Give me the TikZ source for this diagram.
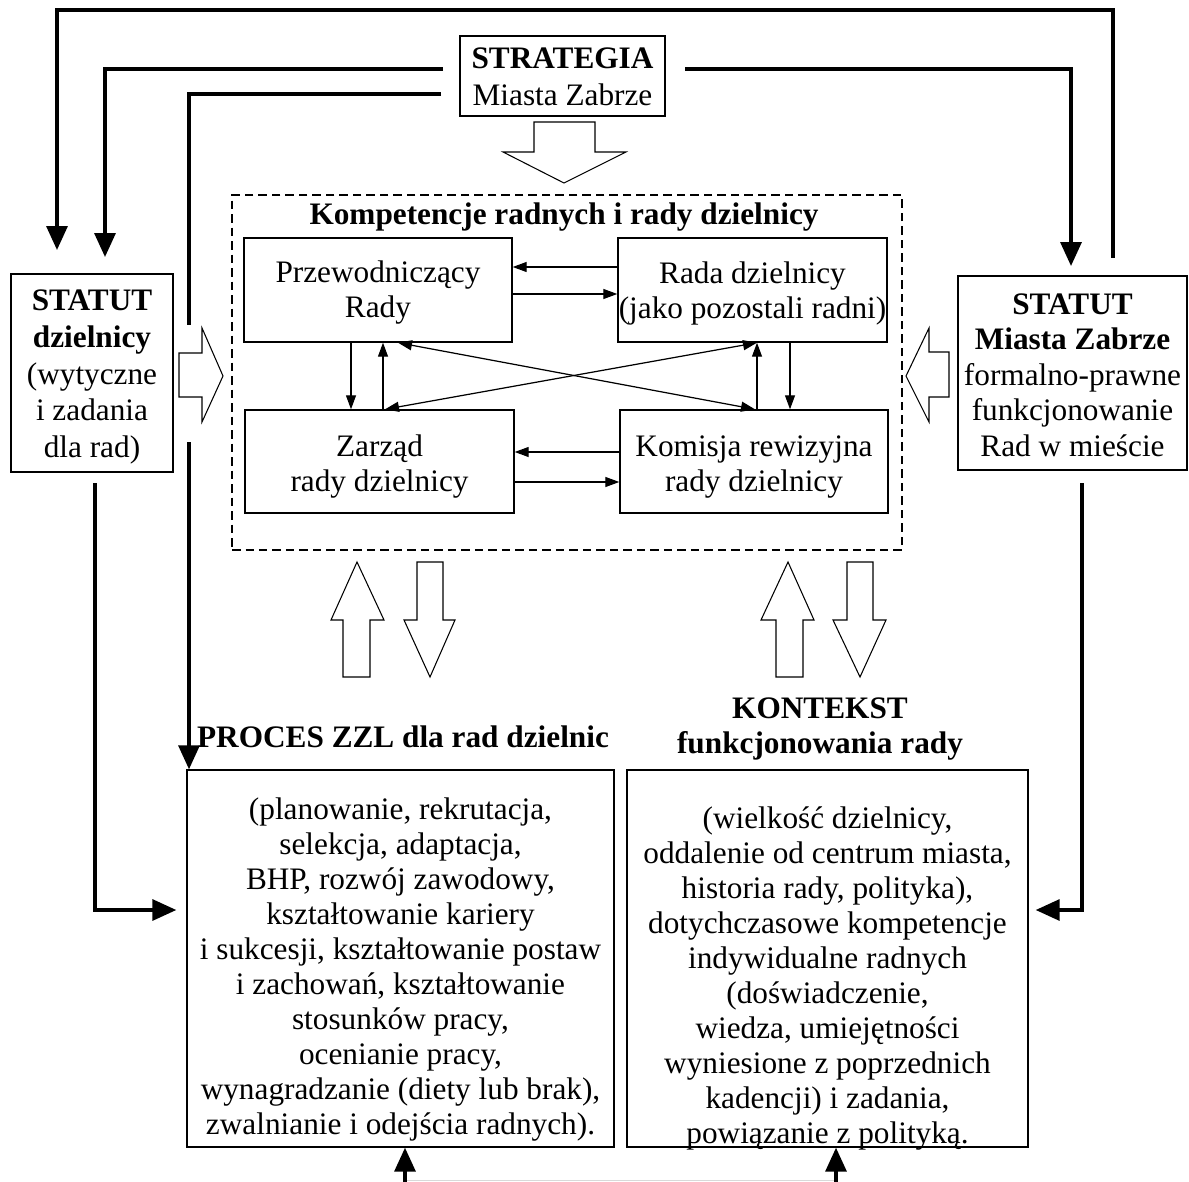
\documentclass[tikz,border=0pt]{standalone}
\usepackage{fontspec}
\setmainfont{Liberation Serif}
\usetikzlibrary{arrows.meta,fit,calc}
\begin{document}
\begin{tikzpicture}[x=0.02cm,y=-0.02cm,
  box/.style={draw,line width=0.8pt,inner sep=0pt},
  dbox/.style={draw,line width=0.6pt,inner sep=0pt,dash pattern=on 0.17cm off 0.1cm},
  txt/.style={align=center,inner sep=0pt,font=\fontsize{17.8pt}{19.92pt}\selectfont},
  hd/.style={align=center,inner sep=0pt,font=\fontsize{17.8pt}{19.92pt}\selectfont\bfseries},
  conn/.style={line width=1.9pt,-{Triangle[length=0.48cm,width=0.42cm]}},
  plainconn/.style={line width=1.9pt},
  link/.style={line width=0.7pt,-{Triangle[length=0.28cm,width=0.2cm]}},
  dlink/.style={line width=0.7pt,{Triangle[length=0.28cm,width=0.2cm]}-{Triangle[length=0.28cm,width=0.2cm]}},
  blockarrow/.style={draw,line width=0.6pt,fill=white,line join=miter},
]
\useasboundingbox (0,0) rectangle (1189,1182);

% boxes
\node[box,fit={(460,36)(665,116)}] (strat) {};
\node[txt,font=\fontsize{17.8pt}{21pt}\selectfont] (stratT) at (562.5,77) {\textbf{STRATEGIA}\\Miasta Zabrze};

\node[dbox,fit={(232,195)(902,550)}] (komp) {};
\node[hd,anchor=base] (kompT) at (564,225) {Kompetencje radnych i rady dzielnicy};

\node[box,fit={(244,238)(512,342)}] (przew) {};
\node[txt] (przewT) at (378,293) {Przewodniczący\\Rady};
\node[box,fit={(618,238)(887,342)}] (rada) {};
\node[txt] (radaT) at (752.5,293) {Rada dzielnicy\\(jako pozostali radni)};
\node[box,fit={(245,410)(514,513)}] (zarz) {};
\node[txt] (zarzT) at (379.5,467) {Zarząd\\rady dzielnicy};
\node[box,fit={(620,410)(888,513)}] (komis) {};
\node[txt] (komisT) at (754,467) {Komisja rewizyjna\\rady dzielnicy};

\node[box,fit={(11,274)(173,472)}] (statL) {};
\node[txt,font=\fontsize{17.8pt}{20.8pt}\selectfont] (statLT) at (92,377) {\textbf{STATUT}\\\textbf{dzielnicy}\\(wytyczne\\i zadania\\dla rad)};
\node[box,fit={(958,276)(1187,470)}] (statR) {};
\node[txt,font=\fontsize{17.8pt}{20.2pt}\selectfont] (statRT) at (1072.5,375) {\textbf{STATUT}\\\textbf{Miasta Zabrze}\\formalno-prawne\\funkcjonowanie\\Rad w mieście};

\node[hd,anchor=base] (procH) at (403,747) {PROCES ZZL dla rad dzielnic};
\node[hd] (kontH) at (820,729) {KONTEKST\\funkcjonowania rady};

\node[box,fit={(187,770)(614,1147)}] (proc) {};
\node[txt] (procT) at (400.5,970) {(planowanie, rekrutacja,\\selekcja, adaptacja,\\BHP, rozwój zawodowy,\\kształtowanie kariery\\i sukcesji, kształtowanie postaw\\i zachowań, kształtowanie\\stosunków pracy,\\ocenianie pracy,\\wynagradzanie (diety lub brak),\\zwalnianie i odejścia radnych).};
\node[box,fit={(627,770)(1028,1147)}] (kont) {};
\node[txt] (kontT) at (827.5,978) {(wielkość dzielnicy,\\oddalenie od centrum miasta,\\historia rady, polityka),\\dotychczasowe kompetencje\\indywidualne radnych\\(doświadczenie,\\wiedza, umiejętności\\wyniesione z poprzednich\\kadencji) i zadania,\\powiązanie z polityką.};

% block arrows
\draw[blockarrow] (534,122) -- (595,122) -- (595,152) -- (626,152) -- (564,183) -- (503,152) -- (534,152) -- cycle;
\draw[blockarrow] (179,353) -- (202,353) -- (202,328) -- (223,376) -- (202,422) -- (202,397) -- (179,397) -- cycle;
\draw[blockarrow] (949,352) -- (929,352) -- (929,328) -- (906,376) -- (929,422) -- (929,397) -- (949,397) -- cycle;
\draw[blockarrow] (357,562) -- (384,620) -- (370,620) -- (370,677) -- (343,677) -- (343,620) -- (331,620) -- cycle;
\draw[blockarrow] (417,562) -- (443,562) -- (443,620) -- (455,620) -- (430,677) -- (404,620) -- (417,620) -- cycle;
\draw[blockarrow] (788,562) -- (814,620) -- (803,620) -- (803,677) -- (776,677) -- (776,620) -- (761,620) -- cycle;
\draw[blockarrow] (847,562) -- (873,562) -- (873,620) -- (886,620) -- (860,677) -- (833,620) -- (847,620) -- cycle;

% thick connectors
\coordinate (aS) at (1113,258);
\coordinate (aT) at (57,250);
\draw[conn] (aS) -- (1113,10) -| (aT);
\coordinate (bS) at (443,69);
\coordinate (bT) at (105,257);
\draw[conn] (bS) -| (bT);
\coordinate (cS) at (441,94);
\coordinate (cM) at (189,325);
\coordinate (cN) at (189,442);
\draw[plainconn] (cS) -| (cM);
\draw[conn] (cN) -- (cN |- proc.north);
\coordinate (dS) at (685,69);
\coordinate (dT) at (1071,266);
\draw[conn] (dS) -| (dT);
\coordinate (eS) at (95,483);
\draw[conn,shorten >=0.2cm] (eS) |- (proc.west |- 0,910);
\coordinate (fS) at (1082,483);
\draw[conn,shorten >=0.14cm] (fS) |- (kont.east |- 0,910);
\coordinate (gL) at (405,1182);
\coordinate (gR) at (836,1182);
\draw[gray!30,line width=0.6pt] (405,1180.5) -- (836,1180.5);
\draw[conn] (gL) -- (gL |- proc.south);
\draw[conn] (gR) -- (gR |- kont.south);

% inner links
\draw[link] (rada.west |- 0,267) -- (przew.east |- 0,267);
\draw[link] (przew.east |- 0,294) -- (rada.west |- 0,294);
\draw[link] (komis.west |- 0,452) -- (zarz.east |- 0,452);
\draw[link] (zarz.east |- 0,482) -- (komis.west |- 0,482);
\draw[link] (351,0 |- przew.south) -- (351,0 |- zarz.north);
\draw[link] (383,0 |- zarz.north) -- (383,0 |- przew.south);
\draw[link] (757,0 |- komis.north) -- (757,0 |- rada.south);
\draw[link] (790,0 |- rada.south) -- (790,0 |- komis.north);
\draw[dlink] (398,0 |- przew.south) -- (755,0 |- komis.north);
\draw[dlink] (385,0 |- zarz.north) -- (757,0 |- rada.south);
\end{tikzpicture}
\end{document}
